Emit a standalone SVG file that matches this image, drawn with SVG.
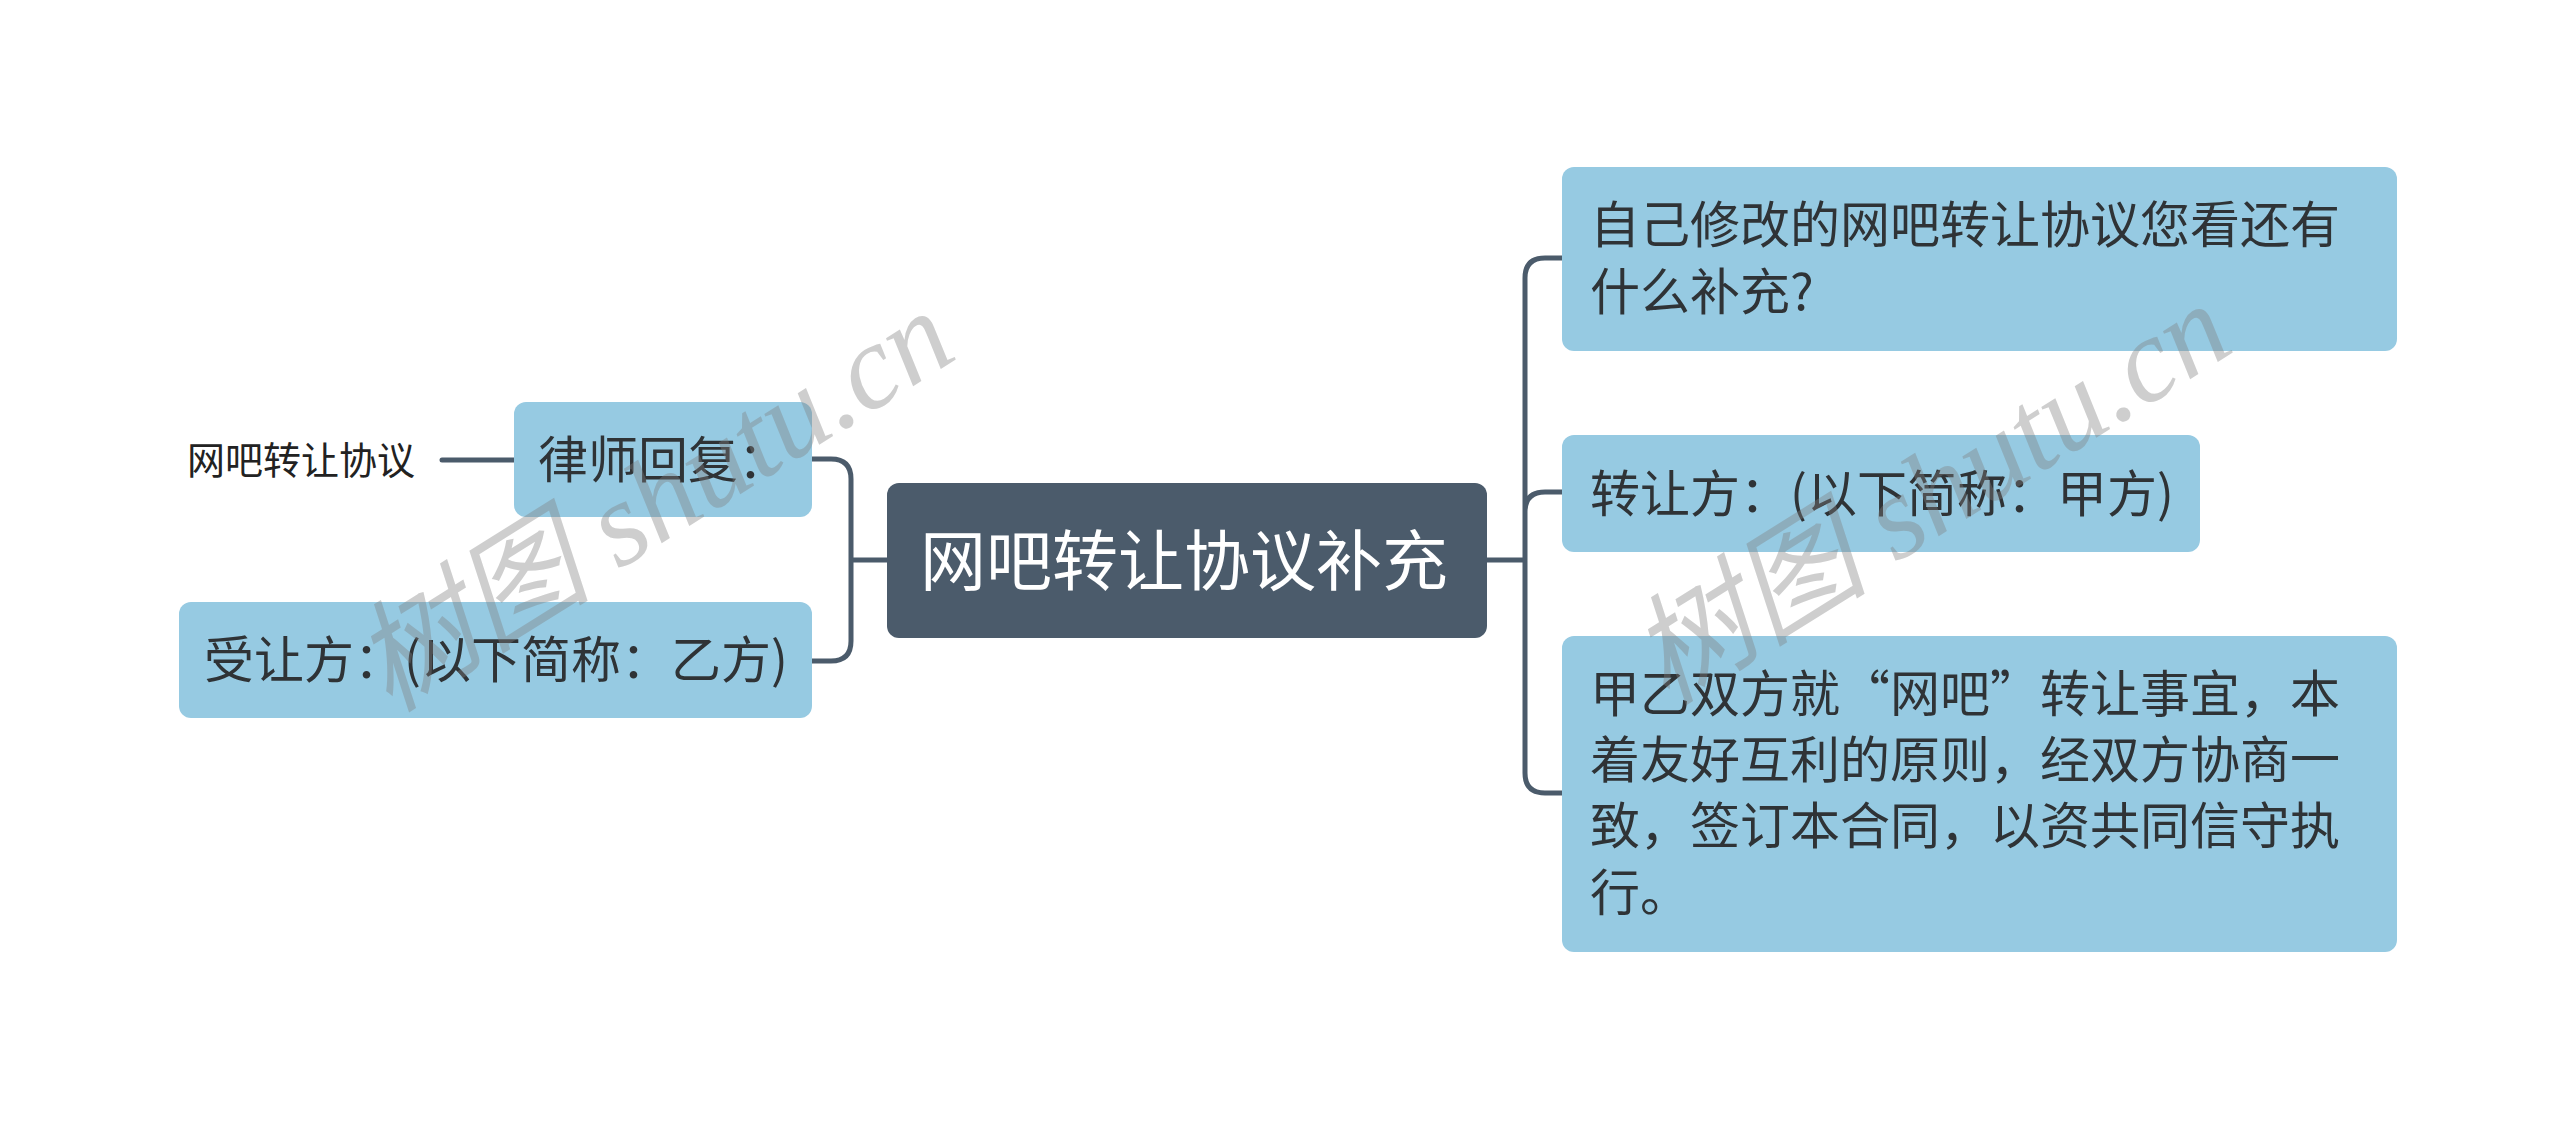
<svg xmlns="http://www.w3.org/2000/svg" width="2560" height="1121" viewBox="0 0 2560 1121">
<style>
.n{fill:#96cae2}
.c{fill:#4b5b6b}
.t{font-family:"Noto Sans CJK SC","Liberation Sans",sans-serif;font-size:50px;fill:#2f3336}
.ct{font-family:"Noto Sans CJK SC","Liberation Sans",sans-serif;font-size:66px;fill:#ffffff}
.lt{font-family:"Noto Sans CJK SC","Liberation Sans",sans-serif;font-size:38px;fill:#222222}
.e{fill:none;stroke:#4b5b6b;stroke-width:5;stroke-linecap:round}
.w{font-family:"Liberation Serif","Noto Sans CJK SC",serif;font-style:italic;font-size:120px;fill:#808080;opacity:0.38}
</style>
<rect width="2560" height="1121" fill="#ffffff"/>
<g id="connectors">
<path class="e" d="M887,560 H851 M812,459 H831 Q851,459 851,479 V641 Q851,661 831,661 H812"/>
<path class="e" d="M442,460 H514"/>
<path class="e" d="M1487,560 H1525 M1562,258 H1545 Q1525,258 1525,278 V773 Q1525,793 1545,793 H1562 M1562,492 H1545 Q1525,492 1525,512"/>
</g>
<g id="root">
<rect class="c" x="887" y="483" width="600" height="155" rx="12"/>
<text class="ct" x="920" y="585">网吧转让协议补充</text>
</g>
<g id="lawyer">
<rect class="n" x="514" y="402" width="298" height="115" rx="12"/>
<text class="t" x="538" y="478">律师回复：</text>
</g>
<g id="leaf-left">
<text class="lt" x="187" y="474">网吧转让协议</text>
</g>
<g id="transferee">
<rect class="n" x="179" y="602" width="633" height="116" rx="12"/>
<text class="t" x="204" y="678">受让方：(以下简称：乙方)</text>
</g>
<g id="question">
<rect class="n" x="1562" y="167" width="835" height="184" rx="12"/>
<text class="t" x="1590" y="243">自己修改的网吧转让协议您看还有</text>
<text class="t" x="1590" y="310">什么补充?</text>
</g>
<g id="transferor">
<rect class="n" x="1562" y="435" width="638" height="117" rx="12"/>
<text class="t" x="1590" y="512">转让方：(以下简称：甲方)</text>
</g>
<g id="terms">
<rect class="n" x="1562" y="636" width="835" height="316" rx="12"/>
<text class="t" x="1590" y="712">甲乙双方就“网吧”转让事宜，本</text>
<text class="t" x="1590" y="778">着友好互利的原则，经双方协商一</text>
<text class="t" x="1590" y="844">致，签订本合同，以资共同信守执</text>
<text class="t" x="1590" y="911">行。</text>
</g>
<g id="watermarks">
<text class="w" x="675" y="535" text-anchor="middle" transform="rotate(-32 675 535)">树图 shutu.cn</text>
<text class="w" x="1952" y="528" text-anchor="middle" transform="rotate(-32 1952 528)">树图 shutu.cn</text>
</g>
</svg>
